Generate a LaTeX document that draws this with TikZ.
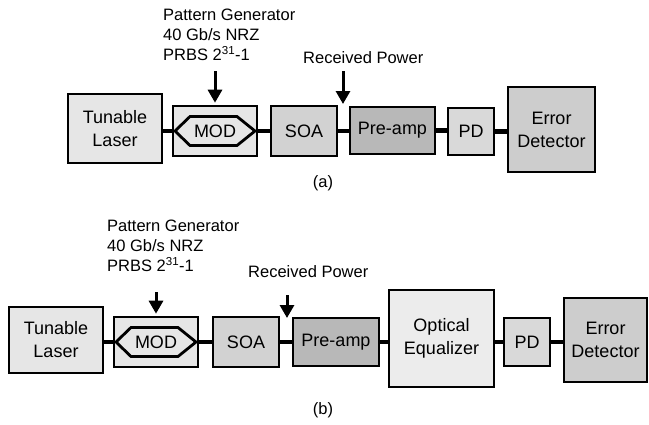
\documentclass[tikz,border=0pt]{standalone}
\usepackage{fontspec}
\setmainfont{Liberation Sans}
\usetikzlibrary{arrows.meta,calc}
\definecolor{cLight}{HTML}{E6E6E6}
\definecolor{cSoa}{HTML}{D2D2D2}
\definecolor{cPre}{HTML}{B8B8B8}
\definecolor{cPd}{HTML}{D9D9D9}
\definecolor{cEd}{HTML}{CDCDCD}
\definecolor{cEq}{HTML}{ECECEC}
\tikzset{
  blk/.style={draw, line width=2.6pt, inner sep=0pt, align=center,
    font=\fontsize{18}{23}\selectfont},
  ann/.style={inner sep=0pt, align=left, anchor=north west,
    font=\fontsize{16.5}{20}\selectfont},
  subcap/.style={inner sep=0pt, font=\fontsize{16.5}{20}\selectfont},
  conn/.style={line width=4.5pt},
  arr/.style={line width=3pt, -{Triangle[width=14pt,length=13pt]}},
  hexs/.style={line width=2.8pt, fill=cLight},
}
\newcommand{\hexmod}[1]{%
  \draw[hexs] ([xshift=-40pt]#1.center) -- ([xshift=-25pt,yshift=14.5pt]#1.center)
    -- ([xshift=22pt,yshift=14.5pt]#1.center) -- ([xshift=40pt]#1.center)
    -- ([xshift=22pt,yshift=-14.5pt]#1.center) -- ([xshift=-25pt,yshift=-14.5pt]#1.center) -- cycle;
  \node[inner sep=0pt, font=\fontsize{18}{23}\selectfont] at (#1.center) {MOD};}
\begin{document}
\begin{tikzpicture}[x=1pt,y=-1pt]
\useasboundingbox (0,0) rectangle (649,424);
% ---------------- (a) ----------------
\node[blk, fill=cLight, minimum width=94pt, minimum height=69pt] (laserA) at (115,128.5) {Tunable\\Laser};
\node[blk, fill=cLight, minimum width=84pt, minimum height=50pt] (modA) at (215,131) {};
\node[blk, fill=cSoa, minimum width=66pt, minimum height=50pt] (soaA) at (304,131) {SOA};
\node[blk, fill=cPre, minimum width=85pt, minimum height=47pt] (preA) at (392.5,130.5) {Pre-amp};
\node[blk, fill=cPd, minimum width=46pt, minimum height=47pt] (pdA) at (471,131.5) {PD};
\node[blk, fill=cEd, minimum width=87pt, minimum height=85pt] (edA) at (551.5,129.5) {Error\\Detector};
\draw[conn] (modA.west -| laserA.east) -- (modA.west);
\draw[conn] (modA.east) -- (soaA.west);
\draw[conn] (soaA.east) -- (soaA.east -| preA.west);
\draw[conn] (preA.east) -- (preA.east -| pdA.west);
\draw[conn] (pdA.east) -- (pdA.east -| edA.west);
\hexmod{modA}
\node[ann] (pgA) at (163,9) {Pattern Generator\\40 Gb/s NRZ\\PRBS 2\textsuperscript{31}-1};
\node[ann] (rpA) at (303,51) {Received Power};
\coordinate (rpA-tip) at (343,104);
\draw[arr] (modA.north |- 0,71) -- ([yshift=2pt]modA.north);
\draw[arr] (rpA-tip |- 0,71) -- (rpA-tip);
\node[subcap] (capA) at (323,183) {(a)};
% ---------------- (b) ----------------
\node[blk, fill=cLight, minimum width=94pt, minimum height=66pt] (laserB) at (56,340) {Tunable\\Laser};
\node[blk, fill=cLight, minimum width=84pt, minimum height=50pt] (modB) at (156,342) {};
\node[blk, fill=cSoa, minimum width=66pt, minimum height=50pt] (soaB) at (246,342) {SOA};
\node[blk, fill=cPre, minimum width=86pt, minimum height=48pt] (preB) at (336,342) {Pre-amp};
\node[blk, fill=cEq, minimum width=105pt, minimum height=97pt] (eqB) at (441.5,338.5) {Optical\\Equalizer};
\node[blk, fill=cPd, minimum width=46pt, minimum height=48pt] (pdB) at (527,342) {PD};
\node[blk, fill=cEd, minimum width=83pt, minimum height=84pt] (edB) at (605.5,340) {Error\\Detector};
\draw[conn] (modB.west -| laserB.east) -- (modB.west);
\draw[conn] (modB.east) -- (soaB.west);
\draw[conn] (soaB.east) -- (preB.west);
\draw[conn] (preB.east) -- (preB.east -| eqB.west);
\draw[conn] (pdB.west -| eqB.east) -- (pdB.west);
\draw[conn] (pdB.east) -- (pdB.east -| edB.west);
\hexmod{modB}
\node[ann] (pgB) at (107,220) {Pattern Generator\\40 Gb/s NRZ\\PRBS 2\textsuperscript{31}-1};
\node[ann] (rpB) at (248,265) {Received Power};
\coordinate (rpB-tip) at (287,318);
\draw[arr] (modB.north |- 0,292) -- ([yshift=2pt]modB.north);
\draw[arr] (rpB-tip |- 0,295) -- (rpB-tip);
\node[subcap] (capB) at (323,410) {(b)};
\end{tikzpicture}
\end{document}
